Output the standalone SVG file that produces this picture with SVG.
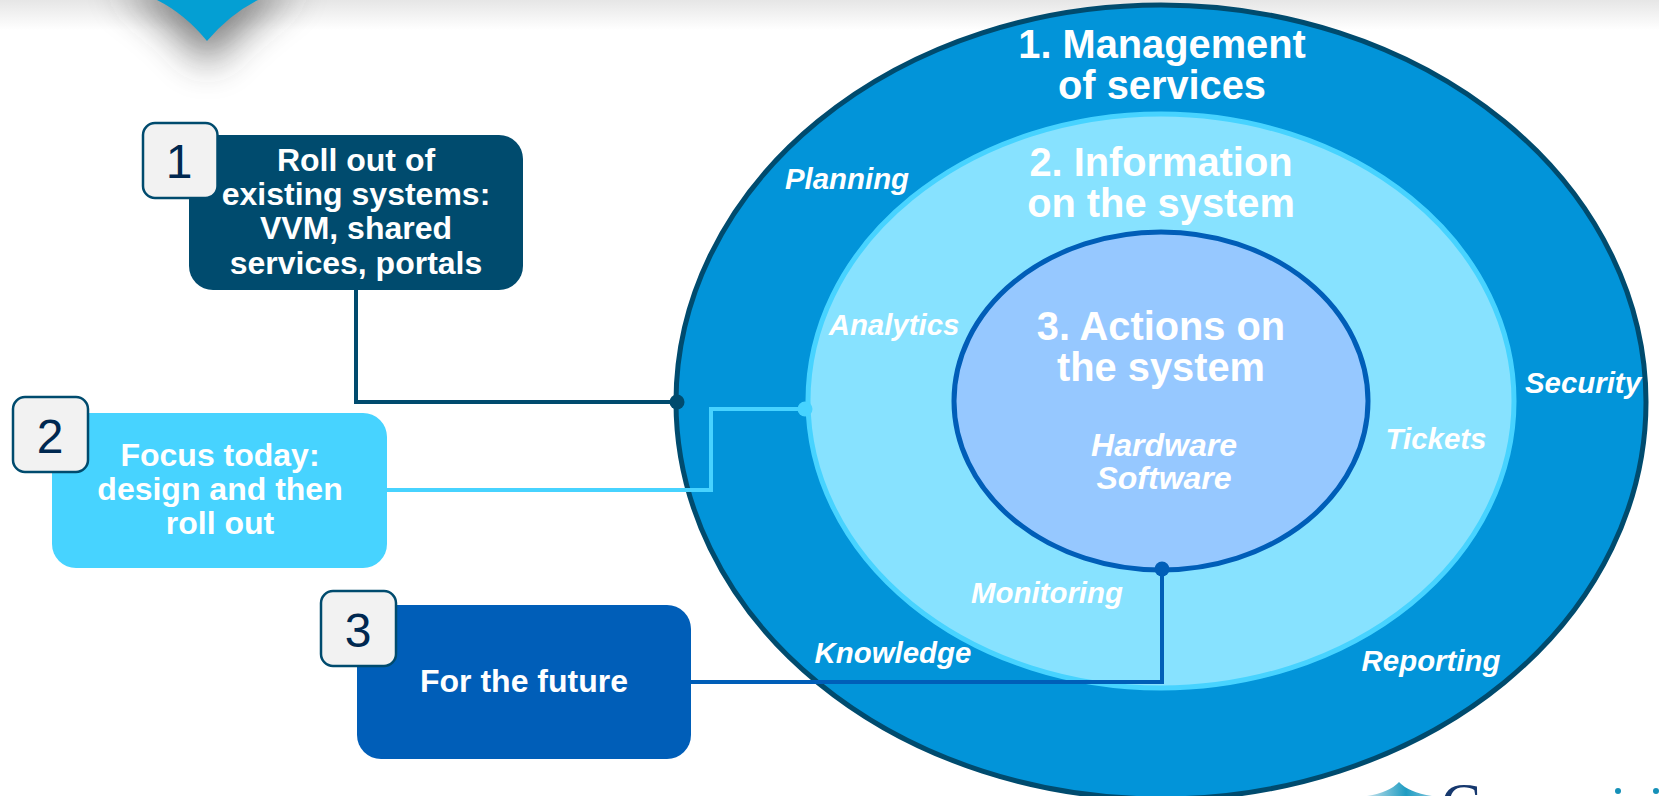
<svg xmlns="http://www.w3.org/2000/svg" width="1659" height="796" viewBox="0 0 1659 796">
<style>
text{font-family:"Liberation Sans",Arial,sans-serif;font-weight:bold;fill:#fff;text-anchor:middle}
.box{font-size:32px}
.title{font-size:39.8px}
.it{font-size:29.4px;font-style:italic}
.it2{font-size:32px;font-style:italic}
.num{font-size:48px;font-weight:normal;fill:#002850}
.badge{fill:#f2f2f2;stroke:#004b6e;stroke-width:2.5}
.conn{fill:none;stroke-width:4}
</style>
<defs>
<linearGradient id="topg" x1="0" y1="0" x2="0" y2="1"><stop offset="0" stop-color="#e6e6e6"/><stop offset="1" stop-color="#fff"/></linearGradient>
<linearGradient id="logog" x1="0" y1="0" x2="1" y2="0"><stop offset="0" stop-color="#c4e2ec"/><stop offset=".6" stop-color="#1f9cc2"/><stop offset="1" stop-color="#7cc4dc"/></linearGradient>
<filter id="blur" x="-80%" y="-80%" width="260%" height="260%"><feGaussianBlur stdDeviation="19"/></filter>
</defs>
<rect width="1659" height="796" fill="#fff"/>
<rect width="1659" height="30" fill="url(#topg)"/>
<path d="M115 -15Q175 25 207 66Q242 25 300 -15Z" fill="#333" opacity=".62" filter="url(#blur)"/>
<path id="chevron" d="M157 0Q185 14 207 41Q230 14 258 0Z" fill="#049fd3"/>
<g id="logo">
<path d="M1367 796Q1390 792 1399 782Q1408 792 1432 796Z" fill="url(#logog)"/>
<text x="1461" y="824" style="font-family:'Liberation Serif',serif;font-size:60px;font-weight:normal;fill:#16386e">C</text>
<circle cx="1618" cy="791" r="3" fill="#1590b8"/><circle cx="1656" cy="791" r="3" fill="#1590b8"/>
</g>
<g id="ring1"><ellipse cx="1161" cy="402" rx="485" ry="397" fill="#0294d9" stroke="#004b6e" stroke-width="5"/>
<text class="title" x="1162" y="58">1. Management</text><text class="title" x="1162" y="99">of services</text>
<text class="it" x="847" y="189">Planning</text><text class="it" x="1583" y="393">Security</text><text class="it" x="1431" y="671">Reporting</text><text class="it" x="893" y="663">Knowledge</text></g>
<g id="ring2"><ellipse cx="1161" cy="401" rx="353" ry="287" fill="#87e2ff" stroke="#47d3ff" stroke-width="5"/>
<text class="title" x="1161" y="176">2. Information</text><text class="title" x="1161" y="217">on the system</text>
<text class="it" x="894" y="335">Analytics</text><text class="it" x="1436" y="449">Tickets</text><text class="it" x="1047" y="603">Monitoring</text></g>
<g id="ring3"><ellipse cx="1161" cy="401" rx="207" ry="169" fill="#96c8ff" stroke="#005eb8" stroke-width="5"/>
<text class="title" x="1161" y="340">3. Actions on</text><text class="title" x="1161" y="381">the system</text>
<text class="it2" x="1164" y="456">Hardware</text><text class="it2" x="1164" y="489">Software</text></g>
<g id="connectors">
<path class="conn" stroke="#004b6e" d="M356 290V402H677"/><circle cx="677" cy="402" r="7.500" fill="#004b6e"/>
<path class="conn" stroke="#47d3ff" d="M387 490H711V409H805"/><circle cx="805" cy="409" r="7.500" fill="#47d3ff"/>
<path class="conn" stroke="#005eb8" d="M691 682H1162V569"/><circle cx="1162" cy="569" r="7.500" fill="#005eb8"/>
</g>
<g id="node1"><rect x="189" y="135" width="334" height="155" rx="24" fill="#004b6e"/>
<text class="box" x="356" y="171">Roll out of</text><text class="box" x="356" y="205">existing systems:</text><text class="box" x="356" y="239">VVM, shared</text><text class="box" x="356" y="274">services, portals</text>
<rect class="badge" x="143" y="123" width="74.500" height="75" rx="12"/><text class="num" x="179" y="178">1</text></g>
<g id="node2"><rect x="52" y="413" width="335" height="155" rx="24" fill="#47d3ff"/>
<text class="box" x="220" y="466">Focus today:</text><text class="box" x="220" y="500">design and then</text><text class="box" x="220" y="534">roll out</text>
<rect class="badge" x="13" y="397" width="75" height="75" rx="12"/><text class="num" x="50" y="453">2</text></g>
<g id="node3"><rect x="357" y="605" width="334" height="154" rx="24" fill="#005eb8"/>
<text class="box" x="524" y="692">For the future</text>
<rect class="badge" x="321" y="591" width="75" height="75" rx="12"/><text class="num" x="358" y="647">3</text></g>
</svg>
